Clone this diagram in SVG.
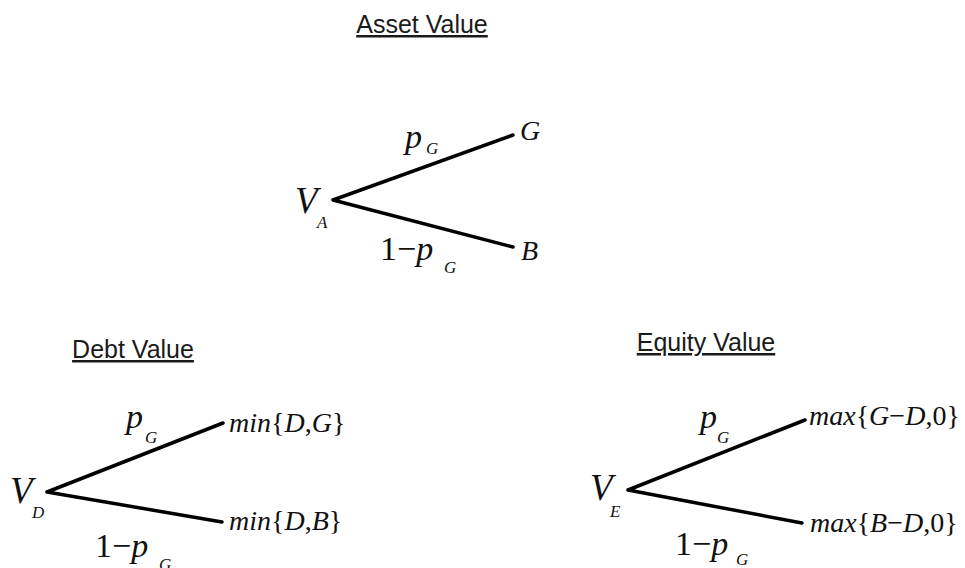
<svg xmlns="http://www.w3.org/2000/svg" width="965" height="568" viewBox="0 0 965 568">
<style>
.title{font-family:"Liberation Sans",Arial,sans-serif;font-size:25px;fill:#1a1a1a;text-decoration:underline}
.m{font-family:"Liberation Serif","Times New Roman",serif;fill:#111}
.i{font-style:italic}
.big{font-size:37px}
.lab{font-size:34px}
.end{font-size:28px}
.sub{font-size:17px;font-style:italic}
.edge{stroke:#000;stroke-width:3.5;fill:none;stroke-linecap:round;stroke-linejoin:round}
</style>
<rect width="965" height="568" fill="#fff"/>

<g id="titles">
<text class="title" x="422" y="33" text-anchor="middle">Asset Value</text>
<text class="title" x="133" y="358" text-anchor="middle">Debt Value</text>
<text class="title" x="706" y="351" text-anchor="middle">Equity Value</text>
</g>

<g id="connectors">
<polyline class="edge" points="513,135 333,200 513,247"/>
<polyline class="edge" points="223,423 47,492 222,522"/>
<polyline class="edge" points="805,420 628,490 802,523"/>
</g>

<g id="asset-root">
<text class="m i big" x="295" y="213">V</text>
<text class="m sub" x="317" y="228">A</text>
</g>
<g id="asset-pg">
<text class="m i lab" x="405" y="148">p</text>
<text class="m sub" x="426" y="154">G</text>
</g>
<g id="asset-1pg">
<text class="m lab" x="380" y="260">1−<tspan class="i">p</tspan></text>
<text class="m sub" x="444" y="273">G</text>
</g>
<g id="asset-G"><text class="m i end" x="520" y="140">G</text></g>
<g id="asset-B"><text class="m i end" x="521" y="260">B</text></g>

<g id="debt-root">
<text class="m i big" x="10" y="503">V</text>
<text class="m sub" x="32" y="518">D</text>
</g>
<g id="debt-pg">
<text class="m i lab" x="126" y="428">p</text>
<text class="m sub" x="145" y="443">G</text>
</g>
<g id="debt-1pg">
<text class="m lab" x="95" y="557">1−<tspan class="i">p</tspan></text>
<text class="m sub" x="159" y="570">G</text>
</g>
<g id="debt-good"><text class="m end" x="229" y="432"><tspan class="i">min</tspan>{<tspan class="i">D</tspan>,<tspan class="i">G</tspan>}</text></g>
<g id="debt-bad"><text class="m end" x="229" y="530"><tspan class="i">min</tspan>{<tspan class="i">D</tspan>,<tspan class="i">B</tspan>}</text></g>

<g id="equity-root">
<text class="m i big" x="590" y="500">V</text>
<text class="m sub" x="610" y="517">E</text>
</g>
<g id="equity-pg">
<text class="m i lab" x="700" y="428">p</text>
<text class="m sub" x="717" y="443">G</text>
</g>
<g id="equity-1pg">
<text class="m lab" x="675" y="555">1−<tspan class="i">p</tspan></text>
<text class="m sub" x="736" y="565">G</text>
</g>
<g id="equity-good"><text class="m end" x="809" y="425"><tspan class="i">max</tspan>{<tspan class="i">G</tspan>−<tspan class="i">D</tspan>,0}</text></g>
<g id="equity-bad"><text class="m end" x="810" y="532"><tspan class="i">max</tspan>{<tspan class="i">B</tspan>−<tspan class="i">D</tspan>,0}</text></g>
</svg>
